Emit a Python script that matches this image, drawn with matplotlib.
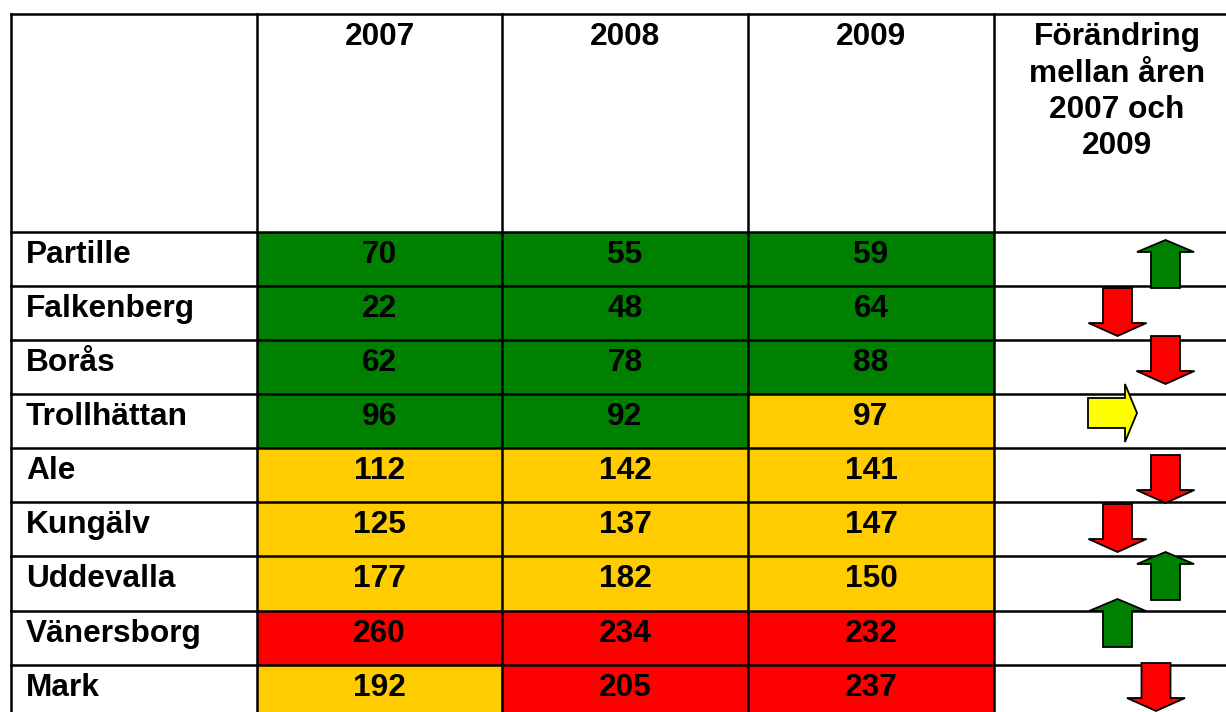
import matplotlib
matplotlib.use("Agg")
import matplotlib.pyplot as plt
from matplotlib.patches import Rectangle, Polygon

# ── data ────────────────────────────────────────────────────────────────
years = ["2007", "2008", "2009"]
change_header = "Förändring\nmellan åren\n2007 och\n2009"
municipalities = ["Partille", "Falkenberg", "Borås", "Trollhättan", "Ale",
                  "Kungälv", "Uddevalla", "Vänersborg", "Mark"]
v2007 = [70, 22, 62, 96, 112, 125, 177, 260, 192]
v2008 = [55, 48, 78, 92, 142, 137, 182, 234, 205]
v2009 = [59, 64, 88, 97, 141, 147, 150, 232, 237]
# traffic-light level of each cell (G/Y/R), per year
lvl2007 = ["G", "G", "G", "G", "Y", "Y", "Y", "R", "Y"]
lvl2008 = ["G", "G", "G", "G", "Y", "Y", "Y", "R", "R"]
lvl2009 = ["G", "G", "G", "Y", "Y", "Y", "Y", "R", "R"]
trend = ["up", "down", "down", "right", "down", "down", "up", "up", "down"]

# ── layout (pixels) ─────────────────────────────────────────────────────
W, H = 1226, 712
col_edges = [11, 257, 502, 748, 994, 1240]
row_edges = [14, 232, 286, 340, 394, 448, 502, 556, 611, 665, 720]
# arrow anchor: (x centre, top y) for vertical, (left x, centre y) for right
arrow_pos = [(1165.5, 240), (1117.5, 288), (1165.5, 336), (1088, 413),
             (1165.5, 455), (1117.5, 504), (1165.5, 552), (1117.5, 599),
             (1156, 663)]

FILL = {"G": "#008000", "Y": "#FFCC00", "R": "#FF0000"}
ARROW = {"up": "#008000", "down": "#FF0000", "right": "#FFFF00"}
FONT = dict(family=["Liberation Sans", "DejaVu Sans"], fontweight="bold",
            fontsize=22.8, color="black")

fig = plt.figure(figsize=(W / 100, H / 100), dpi=100)
ax = fig.add_axes([0, 0, 1, 1])
ax.set_xlim(0, W)
ax.set_ylim(H, 0)
ax.axis("off")

values = [v2007, v2008, v2009]
levels = [lvl2007, lvl2008, lvl2009]

# coloured cells
for j in range(3):
    x0, x1 = col_edges[j + 1], col_edges[j + 2]
    for i in range(len(municipalities)):
        y0, y1 = row_edges[i + 1], row_edges[i + 2]
        ax.add_patch(Rectangle((x0, y0), x1 - x0, y1 - y0,
                               facecolor=FILL[levels[j][i]], edgecolor="none"))
        ax.text((x0 + x1) / 2, y0 + 31, str(values[j][i]), ha="center",
                va="baseline", **FONT)

# grid lines
for x in col_edges:
    ax.plot([x, x], [row_edges[0], row_edges[-1]], color="black", lw=1.8,
            solid_capstyle="projecting")
for y in row_edges:
    ax.plot([col_edges[0], col_edges[-1]], [y, y], color="black", lw=1.8,
            solid_capstyle="projecting")

# header
for j, yr in enumerate(years):
    ax.text((col_edges[j + 1] + col_edges[j + 2]) / 2, 45, yr, ha="center",
            va="baseline", **FONT)
for k, line in enumerate(change_header.split("\n")):
    ax.text(1117, 45 + 36.5 * k, line, ha="center", va="baseline", **FONT)

# row labels
for i, name in enumerate(municipalities):
    ax.text(26, row_edges[i + 1] + 31, name, ha="left", va="baseline", **FONT)

# trend arrows
for d, (px, py) in zip(trend, arrow_pos):
    if d == "up":
        pts = [(px, py), (px + 28.5, py + 12), (px + 14.5, py + 12),
               (px + 14.5, py + 48), (px - 14.5, py + 48), (px - 14.5, py + 12),
               (px - 28.5, py + 12)]
    elif d == "down":
        pts = [(px - 14.5, py), (px + 14.5, py), (px + 14.5, py + 35),
               (px + 29, py + 35), (px, py + 48), (px - 29, py + 35),
               (px - 14.5, py + 35)]
    else:
        pts = [(px, py - 15), (px + 37, py - 15), (px + 37, py - 29),
               (px + 49, py), (px + 37, py + 29), (px + 37, py + 15),
               (px, py + 15)]
    ax.add_patch(Polygon(pts, closed=True, facecolor=ARROW[d],
                         edgecolor="black", lw=1.3, zorder=5))

fig.savefig("out.png", dpi=100)
